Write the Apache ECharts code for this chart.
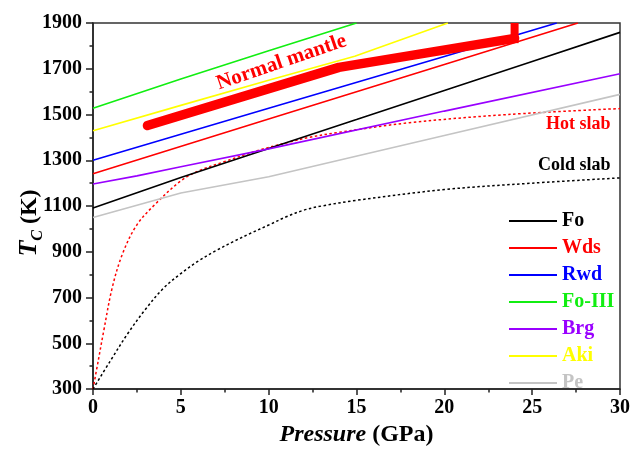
<!DOCTYPE html>
<html>
<head>
<meta charset="utf-8">
<script src="https://cdn.jsdelivr.net/npm/echarts@6/dist/echarts.min.js"></script>
<style>
  html, body { margin: 0; padding: 0; background: #fff; }
  #chart { width: 633px; height: 452px; }
</style>
</head>
<body>
<div id="chart"></div>
<script>
// Critical temperature T_C (K) versus pressure (GPa) for mantle minerals,
// with normal-mantle and slab geotherms.
const SERIF = '"Liberation Serif", "Times New Roman", serif';

const xTicks = [0, 5, 10, 15, 20, 25, 30];
const yTicks = [300, 500, 700, 900, 1100, 1300, 1500, 1700, 1900];

const mineralNames  = ['Fo', 'Wds', 'Rwd', 'Fo-III', 'Brg', 'Aki', 'Pe'];
const mineralColors = ['#000000', '#ff0000', '#0000ff', '#11ee11', '#9900ff', '#ffff00', '#c4c4c4'];

const fo    = [[0, 1091], [5, 1225], [10, 1352], [15, 1478], [20, 1605], [25, 1732], [30, 1859]];
const wds   = [[0, 1241], [10, 1480], [20, 1719], [27.6, 1900]];
const rwd   = [[0, 1300], [10, 1527], [20, 1754], [26.4, 1900]];
const foIII = [[0, 1527], [5, 1655], [10, 1779], [15, 1900]];
const brg   = [[0, 1196], [2.5, 1232], [5, 1272], [10, 1350], [20, 1515], [30, 1678]];
const aki   = [[0, 1429], [5, 1540], [10, 1650], [14.9, 1755], [20.2, 1900]];
const pe    = [[0, 1050], [5, 1157], [10, 1228], [20, 1408], [30, 1588]];

// Normal mantle geotherm and its end step at 24 GPa
const normalMantle = [[3.1, 1452], [14, 1706], [24, 1833]];
const mantleStep   = [[24, 1812], [24, 1900]];

const hotSlab  = [[0, 300], [0.3, 425], [0.6, 550], [1.1, 745], [1.7, 895], [2.5, 1018], [3.5, 1105],
                  [5, 1210], [6, 1253], [7.4, 1292], [9.5, 1345], [11.2, 1380], [12.3, 1400],
                  [14, 1422], [18, 1464], [23.6, 1500], [30, 1526]];
const coldSlab = [[0, 300], [1, 425], [2, 545], [3, 650], [4, 740], [5, 805], [6, 860], [7, 905],
                  [8, 945], [9, 982], [10, 1017], [11, 1053], [12, 1082], [13, 1100], [15, 1125],
                  [20, 1172], [25, 1200], [30, 1223]];

const mineralData = [fo, wds, rwd, foIII, brg, aki, pe];

// Curve annotations: [pressure, temperature] anchor, text, colour, size, angle, align
const notes = [
  { at: [10.73, 1728], text: 'Normal mantle', color: '#ff0000', size: 21, angle: 19, align: 'center' },
  { at: [29.46, 1458], text: 'Hot slab',      color: '#ff0000', size: 18, angle: 0,  align: 'right' },
  { at: [29.46, 1276], text: 'Cold slab',     color: '#000000', size: 18, angle: 0,  align: 'right' }
];

const chart = echarts.init(document.getElementById('chart'), null, { renderer: 'canvas' });

const axisLine = { show: true, lineStyle: { color: '#222', width: 1.5 } };
const labelStyle = { fontFamily: SERIF, fontWeight: 'bold', fontSize: 20, color: '#000', formatter: v => String(v) };

const series = mineralNames.map((name, i) => ({
  name: name,
  type: 'line',
  data: mineralData[i],
  symbol: 'none',
  color: mineralColors[i],
  lineStyle: { color: mineralColors[i], width: 1.6 },
  z: 3
}));

series.push({
  name: 'Normal mantle',
  type: 'line',
  data: normalMantle,
  symbol: 'none',
  lineStyle: { color: '#ff0000', width: 9.5, cap: 'round', join: 'round' },
  z: 4
});
series.push({
  name: 'Normal mantle step',
  type: 'line',
  data: mantleStep,
  symbol: 'none',
  lineStyle: { color: '#ff0000', width: 8, cap: 'butt' },
  z: 4
});
series.push({
  name: 'Hot slab',
  type: 'line',
  data: hotSlab,
  symbol: 'none',
  smooth: 0.35,
  lineStyle: { color: '#ff0000', width: 1.5, type: [2.5, 2.5] },
  z: 2
});
series.push({
  name: 'Cold slab',
  type: 'line',
  data: coldSlab,
  symbol: 'none',
  smooth: 0.35,
  lineStyle: { color: '#000000', width: 1.5, type: [2.5, 2.5] },
  z: 2
});

chart.setOption({
  animation: false,
  backgroundColor: '#fff',
  grid: { left: 93, right: 11, top: 23, bottom: 55, show: true, borderColor: '#333', borderWidth: 1.5, backgroundColor: 'transparent' },
  legend: {
    orient: 'vertical',
    left: 509,
    top: 211,
    padding: 0,
    icon: 'rect',
    itemWidth: 48,
    itemHeight: 2,
    itemGap: 7,
    textStyle: { fontFamily: SERIF, fontWeight: 'bold', fontSize: 20, lineHeight: 20 },
    data: mineralNames.map((n, i) => ({ name: n, textStyle: { color: mineralColors[i] } })),
    selectedMode: false
  },
  xAxis: {
    type: 'value',
    min: xTicks[0],
    max: xTicks[xTicks.length - 1],
    interval: xTicks[1] - xTicks[0],
    axisLine: axisLine,
    axisTick: { show: true, length: 6, lineStyle: { color: '#222', width: 1.5 } },
    minorTick: { show: true, splitNumber: 2, length: 3.5, lineStyle: { color: '#222', width: 1.5 } },
    splitLine: { show: false },
    axisLabel: Object.assign({ margin: 9 }, labelStyle),
    name: '{i|Pressure}{n| (GPa)}',
    nameLocation: 'middle',
    nameGap: 29,
    nameTextStyle: {
      rich: {
        i: { fontFamily: SERIF, fontWeight: 'bold', fontStyle: 'italic', fontSize: 24, color: '#000' },
        n: { fontFamily: SERIF, fontWeight: 'bold', fontSize: 24, color: '#000' }
      }
    }
  },
  yAxis: {
    type: 'value',
    min: yTicks[0],
    max: yTicks[yTicks.length - 1],
    interval: yTicks[1] - yTicks[0],
    axisLine: axisLine,
    axisTick: { show: true, length: 7, lineStyle: { color: '#222', width: 1.5 } },
    minorTick: { show: true, splitNumber: 2, length: 3.5, lineStyle: { color: '#222', width: 1.5 } },
    splitLine: { show: false },
    axisLabel: Object.assign({ margin: 11 }, labelStyle)
  },
  series: series
});

// Axis title for temperature and the curve annotations, placed from data coordinates
const graphics = [{
  type: 'text',
  x: 29,
  y: 223,
  rotation: Math.PI / 2,
  style: {
    text: '{t|T}{c|C}{k| (K)}',
    align: 'center',
    verticalAlign: 'middle',
    rich: {
      t: { fontFamily: SERIF, fontWeight: 'bold', fontStyle: 'italic', fontSize: 26, fill: '#000', verticalAlign: 'bottom' },
      c: { fontFamily: SERIF, fontWeight: 'bold', fontStyle: 'italic', fontSize: 16, fill: '#000', verticalAlign: 'bottom', padding: [0, 0, -4, 0] },
      k: { fontFamily: SERIF, fontWeight: 'bold', fontSize: 24, fill: '#000', verticalAlign: 'bottom' }
    }
  }
}];

notes.forEach(n => {
  const p = chart.convertToPixel({ gridIndex: 0 }, n.at);
  graphics.push({
    type: 'text',
    x: p[0],
    y: p[1],
    rotation: n.angle * Math.PI / 180,
    z: 10,
    style: {
      text: n.text,
      fill: n.color,
      font: 'bold ' + n.size + 'px ' + SERIF,
      align: n.align,
      verticalAlign: 'middle'
    }
  });
});

chart.setOption({ graphic: graphics });
</script>
</body>
</html>
